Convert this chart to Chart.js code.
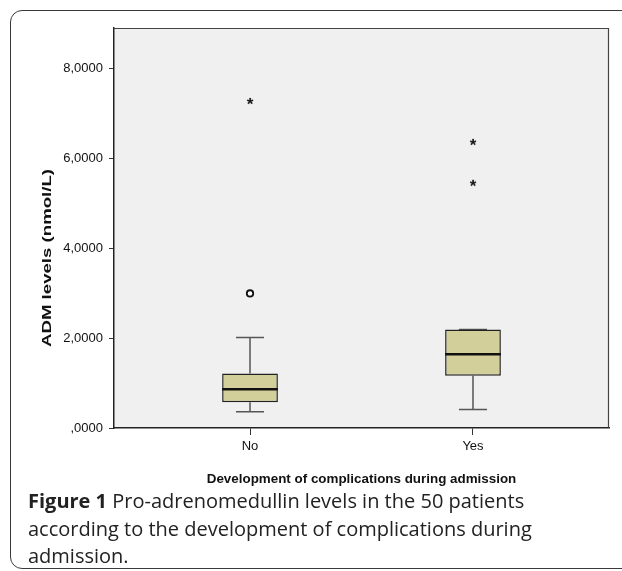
<!DOCTYPE html>
<html>
<head>
<meta charset="utf-8">
<script src="https://cdn.jsdelivr.net/npm/chart.js@4.4.1/dist/chart.umd.min.js"></script>
<style>
  html, body { margin: 0; padding: 0; background: #ffffff; }
  #wrap { position: relative; width: 622px; height: 571px; overflow: hidden; }
  #frame { position: absolute; left: 10px; top: 10px; width: 700px; height: 557px;
           border: 1.5px solid #3a3a3a; border-radius: 12px; }
  #c { position: absolute; left: 0; top: 0; }
  #caption { position: absolute; left: 28px; top: 487px; font-family: 'Open Sans', sans-serif;
             font-size: 20px; line-height: 27.5px; color: #222; white-space: nowrap; }
  #caption b { font-weight: 700; }
</style>
</head>
<body>
<div id="wrap">
  <div id="frame"></div>
  <canvas id="c" width="622" height="571"></canvas>
  <div id="caption"><b>Figure 1</b> Pro-adrenomedullin levels in the 50 patients<br>according to the development of complications during<br>admission.</div>
</div>
<script>
// ---- data ----
const categories = ['No', 'Yes'];
const lowerWhisker = [0.36, 0.41];
const q1 = [0.57, 1.16];
const median = [0.86, 1.64];
const q3 = [1.21, 2.19];
const upperWhisker = [2.01, 2.19];
const mildOutliers = [[2.99], []];          // circles
const extremeOutliers = [[7.27], [6.36, 5.45]]; // asterisks
const yTicks = [0, 2, 4, 6, 8];
const yTitle = 'ADM levels (nmol/L)';
const xTitle = 'Development of complications during admission';

// ---- styling constants ----
const BOX_HALF = 0.125;
const CAP_HALF = 0.063;
const TICK_FONT = { family: "'Liberation Sans', Arial, sans-serif", size: 13 };

function segments(pairs) {
  const out = [];
  pairs.forEach(([a, b]) => { out.push(a, b, { x: a.x, y: null }); });
  return out;
}

const whiskerPairs = [];
const capPairs = [];
const medianPairs = [];
categories.forEach((c, i) => {
  whiskerPairs.push([{ x: i, y: q3[i] }, { x: i, y: upperWhisker[i] }]);
  whiskerPairs.push([{ x: i, y: q1[i] }, { x: i, y: lowerWhisker[i] }]);
  capPairs.push([{ x: i - CAP_HALF, y: upperWhisker[i] }, { x: i + CAP_HALF, y: upperWhisker[i] }]);
  capPairs.push([{ x: i - CAP_HALF, y: lowerWhisker[i] }, { x: i + CAP_HALF, y: lowerWhisker[i] }]);
  medianPairs.push([{ x: i - BOX_HALF, y: median[i] }, { x: i + BOX_HALF, y: median[i] }]);
});

const boxData = categories.map((c, i) => ({ x: i, y: [q1[i], q3[i]] }));
const circleData = [];
mildOutliers.forEach((arr, i) => arr.forEach(v => circleData.push({ x: i, y: v })));
const starData = [];
extremeOutliers.forEach((arr, i) => arr.forEach(v => starData.push({ x: i, y: v })));

// asterisk point image
const starImg = document.createElement('canvas');
starImg.width = 14; starImg.height = 14;
(function () {
  const g = starImg.getContext('2d');
  g.fillStyle = '#111';
  g.font = "bold 17px 'Liberation Sans', Arial, sans-serif";
  g.textAlign = 'center';
  g.textBaseline = 'middle';
  g.fillText('*', 7, 11);
})();

const fmt = v => {
  const s = Number(v).toFixed(4).replace('.', ',');
  return s.startsWith('0,') ? s.slice(1) : s;
};

const decor = {
  id: 'decor',
  beforeDraw(chart) {
    const { ctx, chartArea: a } = chart;
    ctx.save();
    ctx.fillStyle = '#F0F0F0';
    ctx.fillRect(a.left, a.top, a.right - a.left, a.bottom - a.top);
    ctx.restore();
  },
  afterDraw(chart) {
    const { ctx, chartArea: a } = chart;
    ctx.save();
    ctx.strokeStyle = '#444';
    ctx.lineWidth = 1.2;
    ctx.beginPath();
    ctx.moveTo(a.left, a.top + 0.5);
    ctx.lineTo(a.right - 0.5, a.top + 0.5);
    ctx.lineTo(a.right - 0.5, a.bottom);
    ctx.stroke();
    // axis titles
    ctx.fillStyle = '#111';
    ctx.font = "bold 13.4px 'Liberation Sans', Arial, sans-serif";
    ctx.textAlign = 'center';
    ctx.textBaseline = 'middle';
    ctx.fillText(xTitle, (a.left + a.right) / 2, 479);
    ctx.translate(47, 258);
    ctx.rotate(-Math.PI / 2);
    const w = ctx.measureText(yTitle).width;
    ctx.scale(178 / w, 1);
    ctx.fillText(yTitle, 0, 0);
    ctx.restore();
  }
};

new Chart(document.getElementById('c'), {
  type: 'bar',
  data: {
    datasets: [
      { type: 'line', data: segments(whiskerPairs), borderColor: '#555', borderWidth: 1.5,
        pointRadius: 0, spanGaps: false, order: 5 },
      { type: 'line', data: segments(capPairs), borderColor: '#555', borderWidth: 1.5,
        pointRadius: 0, spanGaps: false, order: 4 },
      { type: 'bar', data: boxData, backgroundColor: '#D3CF9B', borderColor: '#222',
        borderWidth: 1.5, borderSkipped: false, barPercentage: 0.25, categoryPercentage: 1, order: 3 },
      { type: 'line', data: segments(medianPairs), borderColor: '#111', borderWidth: 2.5,
        pointRadius: 0, spanGaps: false, order: 2 },
      { type: 'scatter', data: circleData, pointStyle: 'circle', pointRadius: 3.2,
        pointBackgroundColor: '#ffffff', pointBorderColor: '#111', pointBorderWidth: 1.8, order: 1 },
      { type: 'scatter', data: starData, pointStyle: starImg, order: 1 }
    ]
  },
  options: {
    responsive: false,
    animation: false,
    events: [],
    layout: { padding: { left: 0, top: 28, right: 13, bottom: 0 } },
    plugins: { legend: { display: false }, tooltip: { enabled: false } },
    scales: {
      x: {
        type: 'linear', min: -0.61, max: 1.61, offset: false,
        afterBuildTicks: s => { s.ticks = categories.map((c, i) => ({ value: i })); },
        afterFit: s => { s.height = 143; },
        grid: { drawOnChartArea: false, offset: false, tickLength: 7, color: '#333', lineWidth: 1 },
        border: { display: true, color: '#222', width: 1.5 },
        ticks: { color: '#111', font: TICK_FONT, padding: 4, maxRotation: 0,
                 callback: v => categories[v] }
      },
      y: {
        type: 'linear', min: 0, max: 8.89,
        afterBuildTicks: s => { s.ticks = yTicks.map(v => ({ value: v })); },
        afterFit: s => { s.width = 114; },
        grid: { drawOnChartArea: false, tickLength: 5, color: '#333', lineWidth: 1 },
        border: { display: true, color: '#222', width: 1.5 },
        ticks: { color: '#111', font: TICK_FONT, padding: 6, callback: v => fmt(v) }
      }
    }
  },
  plugins: [decor]
});
</script>
</body>
</html>
